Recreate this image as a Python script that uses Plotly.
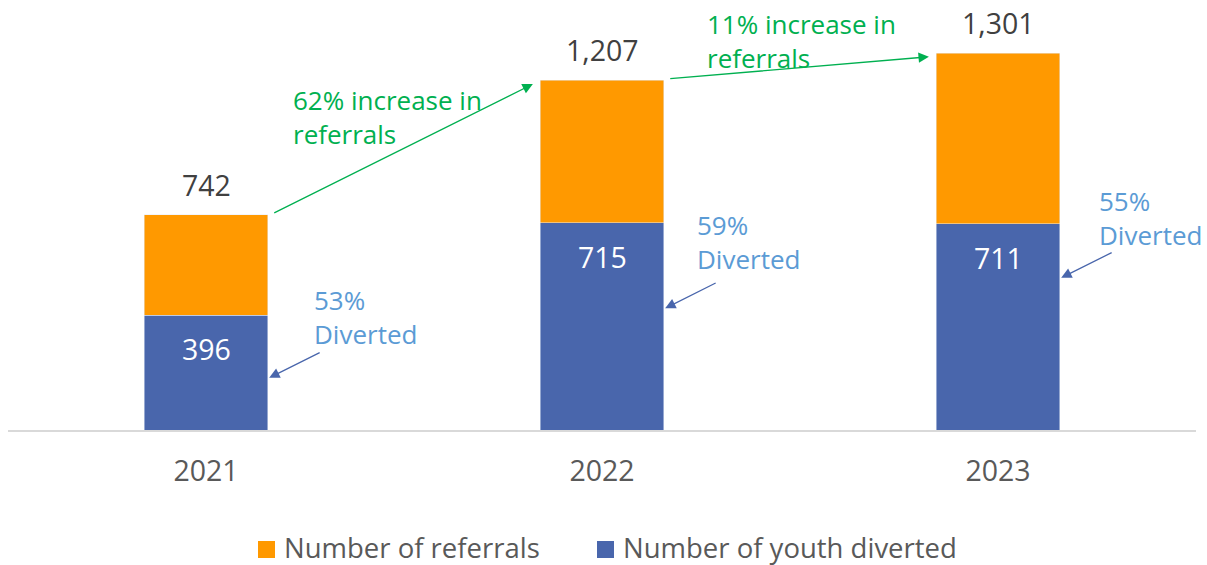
import plotly.graph_objects as go

# Data
years = ["2021", "2022", "2023"]
referrals = [742, 1207, 1301]
diverted = [396, 715, 711]
growth_labels = ["62%", "11%"]
legend_names = ["Number of referrals", "Number of youth diverted"]

ORANGE = "#FF9900"
BLUE = "#4966AC"
GREEN = "#00B050"
LIGHT_BLUE = "#5B9BD5"
FONT = "Open Sans"
FS_TEXT = 26     # callout text
FS_NUM = 28.5    # numbers and year ticks
FS_LEG = 27.5    # legend labels

W, H = 1207, 565
ML, MR, MT, MB = 8, 11, 10, 135
PW, PH = W - ML - MR, H - MT - MB


def px_x(px):
    return (px - ML) / PW


def px_y(py):
    return (H - MB - py) / PH


x = list(range(len(years)))
remaining = [r - d for r, d in zip(referrals, diverted)]
BAR_W = 0.313

fig = go.Figure()
fig.add_bar(x=x, y=diverted, marker_color=BLUE, width=BAR_W,
            showlegend=False, hoverinfo="skip")
fig.add_bar(x=x, y=remaining, marker_color=ORANGE, width=BAR_W,
            showlegend=False, hoverinfo="skip")

ann = []
shapes = []
for i in x:
    # total above bar
    ann.append(dict(x=i, y=referrals[i], xref="x", yref="y", text=f"{referrals[i]:,}",
                    showarrow=False, yshift=30, font=dict(color="#404040", size=FS_NUM)))
    # diverted value inside bar
    ann.append(dict(x=i, y=diverted[i], xref="x", yref="y", text=f"{diverted[i]:,}",
                    showarrow=False, yshift=-34, font=dict(color="white", size=FS_NUM)))

# Diverted share callouts
share_pos = [(0.268, 390, 180), (1.235, 650, 420), (2.25, 731, 525)]
for i, (tx, ty, tip_y) in enumerate(share_pos):
    pct = round(diverted[i] / referrals[i] * 100)
    ann.append(dict(x=tx, y=ty, xref="x", yref="y", text=f"{pct}%<br>Diverted",
                    showarrow=False, xanchor="left", align="left",
                    font=dict(color=LIGHT_BLUE, size=FS_TEXT)))
    ann.append(dict(x=i + BAR_W / 2 + 0.003, y=tip_y, xref="x", yref="y", text="",
                    showarrow=True, ax=52, ay=-26, arrowhead=2, arrowsize=1.6,
                    arrowwidth=1.3, arrowcolor=BLUE, standoff=0))

# Growth arrows between bar tops
growth_text_pos = [(0.215, 1080), (1.26, 1342)]
for i, (g, (tx, ty)) in enumerate(zip(growth_labels, growth_text_pos)):
    ann.append(dict(x=tx, y=ty, xref="x", yref="y", text=f"{g} increase in<br>referrals",
                    showarrow=False, xanchor="left", align="left",
                    font=dict(color=GREEN, size=FS_TEXT)))
    ann.append(dict(x=i + 1 - BAR_W / 2 - 0.018, y=referrals[i + 1] - 13,
                    ax=i + BAR_W / 2 + 0.012, ay=referrals[i] + 5,
                    xref="x", yref="y", axref="x", ayref="y", text="",
                    showarrow=True, arrowhead=2, arrowsize=1.6, arrowwidth=1.3,
                    arrowcolor=GREEN, standoff=0))

# Legend drawn below the axis: colour swatch + label
legend_items = [(legend_names[0], ORANGE, 258), (legend_names[1], BLUE, 597)]
for name, color, sx in legend_items:
    shapes.append(dict(type="rect", xref="paper", yref="paper", line_width=0,
                       fillcolor=color, x0=px_x(sx), x1=px_x(sx + 17),
                       y0=px_y(558), y1=px_y(541)))
    ann.append(dict(x=px_x(sx + 24), y=px_y(547), xref="paper", yref="paper",
                    text=name, showarrow=False, xanchor="left", yanchor="middle",
                    font=dict(color="#595959", size=FS_LEG)))

fig.update_layout(
    width=W, height=H,
    margin=dict(l=ML, r=MR, t=MT, b=MB),
    barmode="stack",
    plot_bgcolor="white", paper_bgcolor="white",
    font=dict(family=FONT, size=FS_TEXT, color="#595959"),
    showlegend=False,
    annotations=ann,
    shapes=shapes,
)
fig.update_xaxes(range=[-0.5, 2.5], tickvals=x, ticktext=years, showgrid=False,
                 showline=True, linecolor="#D9D9D9", linewidth=1.5, zeroline=False,
                 ticks="", ticklabelstandoff=15, tickfont=dict(size=FS_NUM, color="#595959"))
fig.update_yaxes(range=[0, 1301 * 420 / 377], visible=False, showgrid=False, zeroline=False)

fig.write_html("out.html")
